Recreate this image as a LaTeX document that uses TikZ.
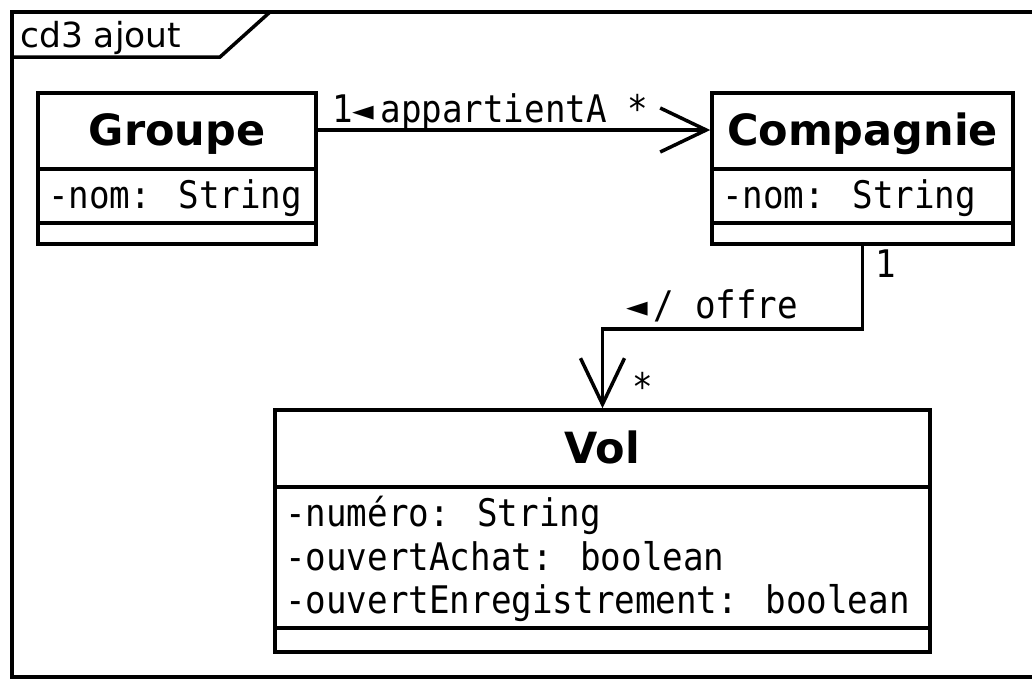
\documentclass[tikz,border=0pt]{standalone}
\usepackage{fontspec}
\usetikzlibrary{arrows.meta}
\newfontfamily\dvsans{DejaVu Sans}
\newfontfamily\dvmono[FakeStretch=0.9]{DejaVu Sans Mono}
\newfontfamily\dvmonoplain{DejaVu Sans Mono}
\newcommand{\lefttri}{{\dvmonoplain\fontsize{36}{40}\selectfont ◄}}
\tikzset{
 umlbox/.style={draw, line width=3.5pt, inner sep=0pt, rectangle},
 sepline/.style={line width=3.5pt},
 ctitle/.style={font=\dvsans\bfseries\fontsize{43}{50}\selectfont, inner sep=0pt, anchor=base},
 attr/.style={font=\dvmono\fontsize{38}{43}\selectfont, inner sep=0pt, anchor=base west},
 lbl/.style={font=\dvmono\fontsize{38}{43}\selectfont, inner sep=0pt, anchor=base west},
 assoc/.style={line width=3.5pt, -{Straight Barb[length=46pt,width=44pt,line width=3.5pt]}},
 frameline/.style={line width=3.5pt},
 tabtext/.style={font=\dvsans\fontsize{34.5}{40}\selectfont, inner sep=0pt, anchor=base west}
}
\begin{document}
\begin{tikzpicture}[x=1pt,y=-1pt]
\clip (0,0) rectangle (1032,678);
\fill[white] (0,0) rectangle (1032,678);
% frame
\draw[frameline] (12,12) rectangle (1045,677);
\draw[frameline] (12,57) -- (220,57) -- (270,12);
\node[tabtext] (tab) at (20,47) {cd3 ajout};
% Groupe
\node[umlbox, minimum width=278pt, minimum height=151pt] (groupe) at (177,168.5) {};
\draw[sepline] (38,169) -- (316,169);
\draw[sepline] (38,223) -- (316,223);
\node[ctitle] (gtitle) at (177,145) {Groupe};
\node[attr] (gattr) at (48,208) {-nom: String};
% Compagnie
\node[umlbox, minimum width=301pt, minimum height=151pt] (compagnie) at (862.5,168.5) {};
\draw[sepline] (712,169) -- (1013,169);
\draw[sepline] (712,223) -- (1013,223);
\node[ctitle] (ctitle) at (862.5,145) {Compagnie};
\node[attr] (cattr) at (722,208) {-nom: String};
% Vol
\node[umlbox, minimum width=655pt, minimum height=242pt] (vol) at (602.5,531) {};
\draw[sepline] (275,487) -- (930,487);
\draw[sepline] (275,628) -- (930,628);
\node[ctitle] (vtitle) at (602.5,463) {Vol};
\node[attr] (va1) at (285,526) {-numéro: String};
\node[attr] (va2) at (285,570) {-ouvertAchat: boolean};
\node[attr] (va3) at (285,613) {-ouvertEnregistrement: boolean};
% connectors
\coordinate (arrowy) at (0,130);
\draw[assoc] (groupe.east |- arrowy) -- (compagnie.west |- arrowy);
\draw[assoc] (compagnie.south) -- ++(0,83) -| (vol.north);
% labels
\node[lbl] (l1) at (332,122) {1\lefttri\hspace{6pt}appartientA *};
\node[lbl] (l2) at (875,277) {1};
\node[lbl] (l3) at (626,318) {\lefttri\hspace{6pt}/ offre};
\node[lbl] (l4) at (632,400) {*};
\end{tikzpicture}
\end{document}
